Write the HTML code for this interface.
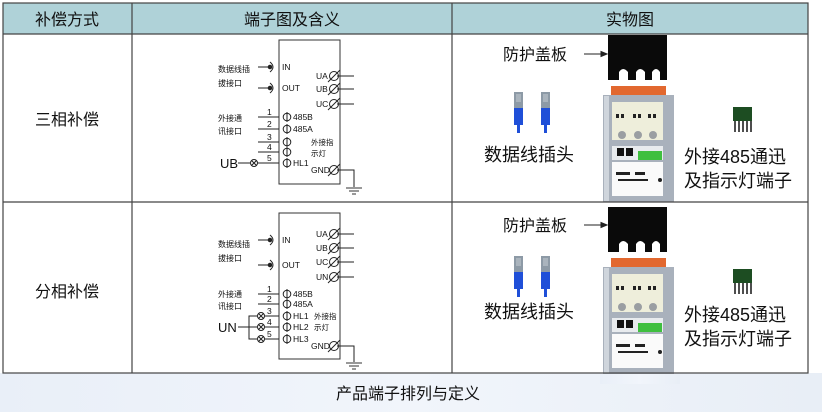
<!DOCTYPE html>
<html><head><meta charset="utf-8"><style>
html,body{margin:0;padding:0;width:822px;height:412px;overflow:hidden;background:#fff}
svg{display:block}
text{font-family:"Liberation Sans","Noto Sans CJK SC",sans-serif;fill:#111}
</style></head><body>
<svg width="822" height="412" viewBox="0 0 822 412" xmlns="http://www.w3.org/2000/svg">
<defs>
<linearGradient id="bg" x1="0" y1="0" x2="1" y2="0"><stop offset="0" stop-color="#e9eff8"/><stop offset="0.5" stop-color="#f1f5fb"/><stop offset="1" stop-color="#e8eef6"/></linearGradient>
<g id="conn">
<rect x="0" y="0" width="9" height="16" fill="#8d9aa6"/><rect x="2" y="2" width="5" height="8" fill="#aab4bd"/>
<rect x="0" y="16" width="9" height="17" fill="#1f4fd8"/><rect x="3" y="33" width="3" height="8" fill="#1f4fd8"/>
</g>
<g id="comb">
<rect x="0" y="0" width="19" height="14" fill="#1d4d22"/>
<g stroke="#222" stroke-width="1.6"><line x1="2" y1="14" x2="2" y2="25"/><line x1="6" y1="14" x2="6" y2="25"/><line x1="10" y1="14" x2="10" y2="25"/><line x1="14" y1="14" x2="14" y2="25"/><line x1="18" y1="14" x2="18" y2="25"/></g>
</g>
<g id="gnd" stroke="#333" stroke-width="1"><line x1="-8" y1="0" x2="8" y2="0"/><line x1="-5" y1="3" x2="5" y2="3"/><line x1="-2" y1="6" x2="2" y2="6"/></g>
<g id="ot" stroke="#222" fill="none" stroke-width="1"><circle r="3.5"/><line x1="-2.5" y1="-2.5" x2="2.5" y2="2.5"/><line x1="-2.5" y1="2.5" x2="2.5" y2="-2.5"/></g>
<g id="phi" stroke="#222" fill="none" stroke-width="1"><circle r="3.8"/><line x1="0" y1="-5" x2="0" y2="5"/></g>
<g id="ters" stroke="#222" fill="none" stroke-width="1"><circle r="4.5"/><line x1="-6" y1="6" x2="6" y2="-6"/></g>
<g id="jack" stroke="#222" fill="none" stroke-width="1"><path d="M-2,-5 Q4,0 -2,5"/><circle cx="-2" cy="0" r="1.8" fill="#222"/></g>
</defs>
<rect x="0" y="0" width="822" height="412" fill="#fff"/>
<rect x="0" y="373" width="822" height="39" fill="url(#bg)"/>
<rect x="3" y="3" width="805" height="31" fill="#afd2d8"/>

<!-- device 1 -->
<g id="dev1">
<path d="M608,35 H667 V80 H660 V72 Q656,66 652,72 V80 H645 V72 Q640,66 636,72 V80 H628 V72 Q623,66 619,72 V80 H608 Z" fill="#0a0a0a"/>
<rect x="611" y="86" width="55" height="9" fill="#e2682f"/>
<rect x="603" y="95" width="71" height="107" fill="#a9b1bc"/>
<rect x="604" y="96" width="5" height="105" fill="#cfd5dc"/>
<rect x="612" y="102" width="51" height="38" fill="#eeeedb"/>
<g fill="#222"><rect x="616" y="114" width="3" height="4"/><rect x="621" y="114" width="3" height="4"/><rect x="633" y="114" width="3" height="4"/><rect x="638" y="114" width="3" height="4"/><rect x="648" y="114" width="3" height="4"/><rect x="653" y="114" width="3" height="4"/></g>
<g fill="#9a9ea2"><circle cx="622" cy="135" r="4"/><circle cx="638" cy="135" r="4"/><circle cx="653" cy="135" r="4"/></g>
<rect x="612" y="146" width="51" height="14" fill="#e8ebee"/>
<rect x="617" y="148" width="7" height="8" fill="#111"/><rect x="626" y="148" width="7" height="8" fill="#111"/>
<rect x="638" y="151" width="24" height="9" fill="#3fbf3f"/>
<rect x="612" y="162" width="51" height="34" fill="#fafafa"/>
<g fill="#222"><rect x="616" y="172" width="14" height="3"/><rect x="635" y="172" width="10" height="3"/><rect x="618" y="179" width="30" height="2"/><circle cx="660" cy="180" r="2"/></g>
</g>
<use href="#dev1" x="0" y="172"/>
<rect x="600" y="374" width="80" height="10" fill="url(#bg)"/>

<g stroke="#444" stroke-width="1.2" fill="none">
<rect x="3" y="3" width="805" height="370"/>
<line x1="3" y1="34" x2="808" y2="34"/>
<line x1="3" y1="202" x2="808" y2="202"/>
<line x1="132" y1="3" x2="132" y2="373"/>
<line x1="452" y1="3" x2="452" y2="373"/>
</g>
<text x="67" y="25" font-size="16" text-anchor="middle">补偿方式</text>
<text x="292" y="25" font-size="16" text-anchor="middle">端子图及含义</text>
<text x="630" y="25" font-size="16" text-anchor="middle">实物图</text>
<text x="67" y="125" font-size="16" text-anchor="middle">三相补偿</text>
<text x="67" y="297" font-size="16" text-anchor="middle">分相补偿</text>
<text x="408" y="399" font-size="16" text-anchor="middle">产品端子排列与定义</text>

<!-- schematic 1 -->
<g>
<rect x="279" y="40" width="61" height="144" fill="none" stroke="#333" stroke-width="1"/>
<g font-size="8"><text x="218" y="72">数据线插</text><text x="218" y="86">拔接口</text><text x="218" y="121">外接通</text><text x="218" y="134">讯接口</text></g>
<g stroke="#222" stroke-width="1">
<line x1="258" y1="67" x2="268" y2="67"/><line x1="258" y1="88" x2="268" y2="88"/>
<line x1="258" y1="117" x2="279" y2="117"/><line x1="258" y1="129" x2="279" y2="129"/><line x1="258" y1="142" x2="279" y2="142"/><line x1="258" y1="152" x2="279" y2="152"/>
<line x1="238" y1="163" x2="250" y2="163"/><line x1="258" y1="163" x2="279" y2="163"/>
<line x1="337" y1="76" x2="354" y2="76"/><line x1="337" y1="89" x2="354" y2="89"/><line x1="337" y1="104" x2="354" y2="104"/>
<polyline points="337,170 354,170 354,187" fill="none"/>
</g>
<use href="#gnd" x="354" y="188"/>
<use href="#jack" x="272" y="67"/><use href="#jack" x="272" y="88"/>
<use href="#ot" x="254" y="163"/>
<use href="#phi" x="287" y="117"/><use href="#phi" x="287" y="129"/><use href="#phi" x="287" y="142"/><use href="#phi" x="287" y="152"/><use href="#phi" x="287" y="163"/>
<use href="#ters" x="334" y="76"/><use href="#ters" x="334" y="89"/><use href="#ters" x="334" y="104"/><use href="#ters" x="334" y="170"/>
<g font-size="8.5"><text x="282" y="70">IN</text><text x="282" y="91">OUT</text>
<text x="316" y="79">UA</text><text x="316" y="92">UB</text><text x="316" y="107">UC</text><text x="311" y="173">GND</text>
<text x="293" y="120">485B</text><text x="293" y="132">485A</text><text x="293" y="166">HL1</text>
<text x="267" y="115">1</text><text x="267" y="127">2</text><text x="267" y="140">3</text><text x="267" y="150">4</text><text x="267" y="161">5</text></g>
<g font-size="7.5"><text x="311" y="145">外接指</text><text x="311" y="156">示灯</text></g>
<text x="220" y="168" font-size="13">UB</text>
</g>

<!-- schematic 2 -->
<g>
<rect x="279" y="213" width="61" height="146" fill="none" stroke="#333" stroke-width="1"/>
<g font-size="8"><text x="218" y="247">数据线插</text><text x="218" y="261">拔接口</text><text x="218" y="297">外接通</text><text x="218" y="309">讯接口</text></g>
<g stroke="#222" stroke-width="1">
<line x1="258" y1="240" x2="268" y2="240"/><line x1="258" y1="265" x2="268" y2="265"/>
<line x1="258" y1="294" x2="279" y2="294"/><line x1="258" y1="304" x2="279" y2="304"/>
<line x1="265" y1="316" x2="279" y2="316"/><line x1="265" y1="327" x2="279" y2="327"/><line x1="265" y1="339" x2="279" y2="339"/>
<line x1="238" y1="327" x2="257" y2="327"/>
<polyline points="257,316 249,316 249,339 257,339" fill="none"/>
<line x1="337" y1="234" x2="354" y2="234"/><line x1="337" y1="248" x2="354" y2="248"/><line x1="337" y1="262" x2="354" y2="262"/><line x1="337" y1="277" x2="354" y2="277"/>
<polyline points="337,346 354,346 354,362" fill="none"/>
</g>
<use href="#gnd" x="354" y="363"/>
<use href="#jack" x="272" y="240"/><use href="#jack" x="272" y="265"/>
<use href="#ot" x="261" y="316"/><use href="#ot" x="261" y="327"/><use href="#ot" x="261" y="339"/>
<use href="#phi" x="287" y="294"/><use href="#phi" x="287" y="304"/><use href="#phi" x="287" y="316"/><use href="#phi" x="287" y="327"/><use href="#phi" x="287" y="339"/>
<use href="#ters" x="334" y="234"/><use href="#ters" x="334" y="248"/><use href="#ters" x="334" y="262"/><use href="#ters" x="334" y="277"/><use href="#ters" x="334" y="346"/>
<g font-size="8.5"><text x="282" y="243">IN</text><text x="282" y="268">OUT</text>
<text x="316" y="237">UA</text><text x="316" y="251">UB</text><text x="316" y="265">UC</text><text x="316" y="280">UN</text><text x="311" y="349">GND</text>
<text x="293" y="297">485B</text><text x="293" y="307">485A</text><text x="293" y="319">HL1</text><text x="293" y="330">HL2</text><text x="293" y="342">HL3</text>
<text x="267" y="292">1</text><text x="267" y="302">2</text><text x="267" y="314">3</text><text x="267" y="325">4</text><text x="267" y="337">5</text></g>
<g font-size="7.5"><text x="314" y="319">外接指</text><text x="314" y="330">示灯</text></g>
<text x="218" y="332" font-size="13">UN</text>
</g>

<!-- labels photos -->
<g font-size="16"><text x="503" y="60">防护盖板</text><text x="503" y="231">防护盖板</text></g>
<g stroke="#222" stroke-width="1" fill="#222"><line x1="584" y1="54" x2="603" y2="54"/><path d="M607,54 L601,51.5 L601,56.5Z"/><line x1="584" y1="225" x2="603" y2="225"/><path d="M607,225 L601,222.5 L601,227.5Z"/></g>
<g font-size="18"><text x="484" y="161">数据线插头</text><text x="484" y="318">数据线插头</text>
<text x="684" y="163">外接485通迅</text><text x="684" y="187">及指示灯端子</text>
<text x="684" y="321">外接485通迅</text><text x="684" y="345">及指示灯端子</text></g>
<use href="#conn" x="514" y="92"/><use href="#conn" x="541" y="92"/>
<use href="#conn" x="514" y="256"/><use href="#conn" x="541" y="256"/>
<use href="#comb" x="733" y="107"/><use href="#comb" x="733" y="269"/>
</svg>
</body></html>
